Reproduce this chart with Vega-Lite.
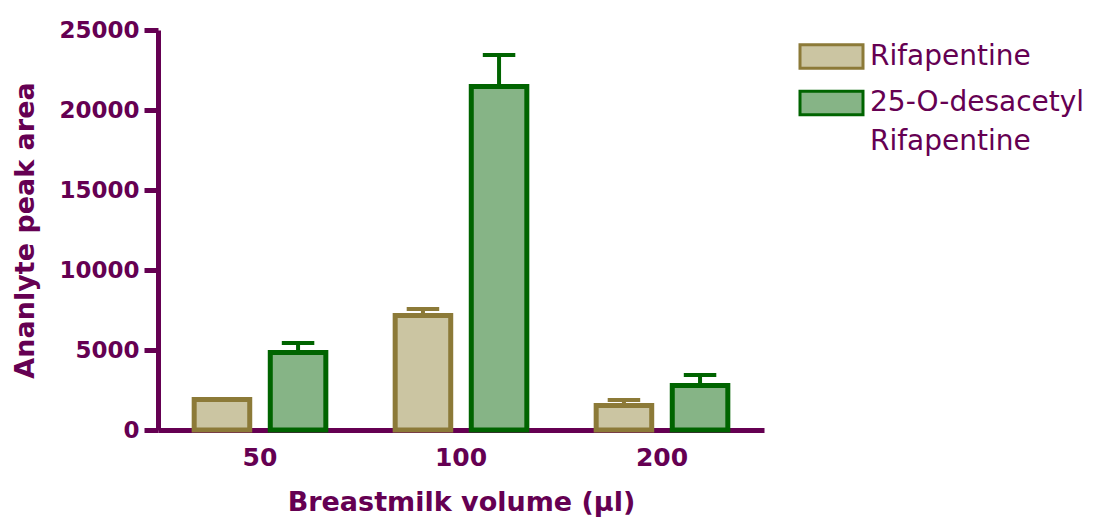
{
  "$schema": "https://vega.github.io/schema/vega-lite/v6.json",
  "width": 606,
  "height": 400,
  "autosize": {"type": "none"},
  "padding": {"left": 158, "top": 30, "right": 333, "bottom": 89},
  "background": "white",
  "config": {
    "view": {"stroke": null},
    "font": "DejaVu Sans",
    "style": {"guide-label": {"lineHeight": 39}}
  },
  "data": {
    "values": [
      {"volume": "50", "series": "Rifapentine", "mean": 1900, "upper": 1900},
      {"volume": "50", "series": "25-O-desacetyl Rifapentine", "mean": 4840, "upper": 5440},
      {"volume": "100", "series": "Rifapentine", "mean": 7160, "upper": 7560},
      {"volume": "100", "series": "25-O-desacetyl Rifapentine", "mean": 21470, "upper": 23440},
      {"volume": "200", "series": "Rifapentine", "mean": 1530, "upper": 1880},
      {"volume": "200", "series": "25-O-desacetyl Rifapentine", "mean": 2780, "upper": 3440}
    ]
  },
  "encoding": {
    "x": {
      "field": "volume",
      "type": "nominal",
      "sort": ["50", "100", "200"],
      "scale": {"paddingInner": 0.345, "paddingOuter": 0.18},
      "axis": {
        "title": "Breastmilk volume (µl)",
        "labelAngle": 0,
        "ticks": false,
        "domainColor": "#650052",
        "domainWidth": 5,
        "labelColor": "#650052",
        "labelFont": "DejaVu Sans",
        "labelFontWeight": "bold",
        "labelFontSize": 25,
        "labelPadding": 15,
        "titleColor": "#650052",
        "titleFont": "DejaVu Sans",
        "titleFontWeight": "bold",
        "titleFontSize": 27,
        "titlePadding": 19
      }
    },
    "xOffset": {
      "field": "series",
      "type": "nominal",
      "sort": ["Rifapentine", "25-O-desacetyl Rifapentine"],
      "scale": {"paddingInner": 0.27}
    },
    "stroke": {
      "field": "series",
      "type": "nominal",
      "scale": {"domain": ["Rifapentine", "25-O-desacetyl Rifapentine"], "range": ["#8c7a38", "#006400"]},
      "legend": {
        "title": null,
        "orient": "none",
        "legendX": 657,
        "legendY": 10,
        "symbolType": "M-2.1,-0.78H2.1V0.78H-2.1Z",
        "symbolSize": 900,
        "symbolStrokeWidth": 3,
        "labelFont": "DejaVu Sans",
        "labelFontSize": 28,
        "labelColor": "#650052",
        "labelOffset": 22,
        "labelLimit": 400,
        "rowPadding": 9.5,
        "labelExpr": "datum.label == '25-O-desacetyl Rifapentine' ? ['25-O-desacetyl', 'Rifapentine'] : datum.label"
      }
    }
  },
  "layer": [
    {
      "mark": {"type": "rule", "strokeWidth": 4},
      "encoding": {
        "y": {"field": "mean", "type": "quantitative"},
        "y2": {"field": "upper"}
      }
    },
    {
      "mark": {"type": "tick", "thickness": 0.5, "strokeWidth": 3.5, "size": 29, "opacity": 1, "fill": "transparent"},
      "encoding": {
        "y": {"field": "upper", "type": "quantitative"}
      }
    },
    {
      "mark": {"type": "bar", "strokeWidth": 5},
      "encoding": {
        "y": {
          "field": "mean",
          "type": "quantitative",
          "scale": {"domain": [0, 25000], "nice": false},
          "axis": {
            "title": "Ananlyte peak area",
            "values": [0, 5000, 10000, 15000, 20000, 25000],
            "format": "d",
            "grid": false,
            "domainColor": "#650052",
            "domainWidth": 5,
            "tickColor": "#650052",
            "tickWidth": 5,
            "tickSize": 14,
            "labelColor": "#650052",
            "labelFont": "DejaVu Sans",
            "labelFontWeight": "bold",
            "labelFontSize": 23,
            "labelPadding": 5,
            "titleColor": "#650052",
            "titleFont": "DejaVu Sans",
            "titleFontWeight": "bold",
            "titleFontSize": 27,
            "titlePadding": 19
          }
        },
        "fill": {
          "field": "series",
          "type": "nominal",
          "scale": {"domain": ["Rifapentine", "25-O-desacetyl Rifapentine"], "range": ["#cbc5a2", "#86b486"]},
          "legend": {
            "title": null,
            "orient": "none",
            "legendX": 657,
            "legendY": 10,
            "symbolType": "M-2.1,-0.78H2.1V0.78H-2.1Z",
            "symbolSize": 900,
            "symbolStrokeWidth": 3,
            "labelFont": "DejaVu Sans",
            "labelFontSize": 28,
            "labelColor": "#650052",
            "labelOffset": 22,
            "labelLimit": 400,
            "rowPadding": 9.5,
            "labelExpr": "datum.label == '25-O-desacetyl Rifapentine' ? ['25-O-desacetyl', 'Rifapentine'] : datum.label"
          }
        }
      }
    }
  ]
}
